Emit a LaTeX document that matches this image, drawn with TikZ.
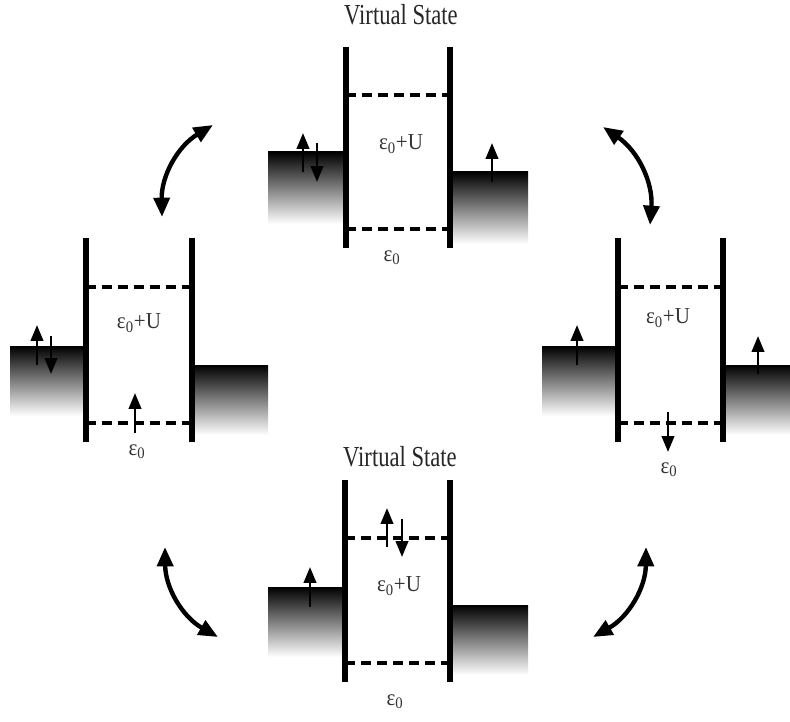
\documentclass[tikz,border=0pt]{standalone}
\usepackage{fontspec}
\setmainfont{Liberation Serif}
\usetikzlibrary{arrows.meta}

\begin{document}
\begin{tikzpicture}[x=0.02cm, y=0.02cm,
		wall/.style={line width=3.4pt},
		level/.style={line width=1.8pt, dash pattern=on 5.7pt off 3.4pt},
		lead/.style={top color=black, bottom color=white},
		spin/.style={line width=1.5pt, -{Triangle[length=9pt,width=7pt]}},
		hop/.style={line width=2.5pt, {Triangle[length=11pt,width=9pt]}-{Triangle[length=11pt,width=9pt]}},
		lbl/.style={font=\fontsize{13}{13}\selectfont, text=black!80, inner sep=0pt, xscale=0.92},
		title/.style={font=\fontsize{16.5}{17}\selectfont, text=black!85, inner sep=0pt, xscale=0.78}]
	\useasboundingbox (0,0) rectangle (790,721);

	% Top panel: virtual state, doubly occupied
	\shade[lead] (268,497) rectangle (346,569);
	\shade[lead] (450,477) rectangle (528,549);
	\foreach \x in {346,450} \draw[wall] (\x,473) -- (\x,674);
	\draw[level] (346,626) -- (450,626);
	\draw[level] (346,492) -- (450,492);
	\node[title] (topvs) at (401,706) {Virtual State};
	\node[lbl] (topU) at (401,577) {ε\textsubscript{0}+U};
	\node[lbl] (tope) at (392,463) {ε\textsubscript{0}};
	\draw[spin] (303,549) -- (303,588);
	\draw[spin] (317,578) -- (317,539);
	\draw[spin] (492,539) -- (492,578);

	% Left panel: spin up on the dot
	\shade[lead] (10,305) rectangle (86,375);
	\shade[lead] (192,286) rectangle (268,356);
	\foreach \x in {86,192} \draw[wall] (\x,279) -- (\x,483);
	\draw[level] (86,434) -- (192,434);
	\draw[level] (86,298) -- (192,298);
	\node[lbl] (leftU) at (139,398) {ε\textsubscript{0}+U};
	\node[lbl] (lefte) at (137,269) {ε\textsubscript{0}};
	\draw[spin] (37,356) -- (37,396);
	\draw[spin] (51,385) -- (51,347);
	\draw[spin] (135,288) -- (135,328);

	% Right panel: spin down on the dot
	\shade[lead] (542,305) rectangle (618,375);
	\shade[lead] (723,286) rectangle (790,356);
	\foreach \x in {618,723} \draw[wall] (\x,279) -- (\x,483);
	\draw[level] (618,434) -- (723,434);
	\draw[level] (618,298) -- (723,298);
	\node[lbl] (rightU) at (668,403) {ε\textsubscript{0}+U};
	\node[lbl] (righte) at (669,251) {ε\textsubscript{0}};
	\draw[spin] (577,356) -- (577,396);
	\draw[spin] (758,347) -- (758,385);
	\draw[spin] (668,309) -- (668,269);

	% Bottom panel: virtual state, doubly occupied
	\shade[lead] (268,64) rectangle (345,134);
	\shade[lead] (450,46) rectangle (528,116);
	\foreach \x in {345,450} \draw[wall] (\x,39) -- (\x,241);
	\draw[level] (345,183) -- (450,183);
	\draw[level] (345,58) -- (450,58);
	\node[title] (botvs) at (400,264) {Virtual State};
	\node[lbl] (botU) at (399,135) {ε\textsubscript{0}+U};
	\node[lbl] (bote) at (395,19) {ε\textsubscript{0}};
	\draw[spin] (310,114) -- (310,154);
	\draw[spin] (387,174) -- (387,213);
	\draw[spin] (402,202) -- (402,164);

	% Hopping arrows between the panels
	\coordinate (tlA) at (162,504);
	\coordinate (tlB) at (213,596);
	\coordinate (trA) at (603,594);
	\coordinate (trB) at (650,496);
	\coordinate (blA) at (165,174);
	\coordinate (blB) at (218,84);
	\coordinate (brA) at (646,174);
	\coordinate (brB) at (593,84);
	\draw[hop] (tlA) to[bend left=30] (tlB);
	\draw[hop] (trA) to[bend left=30] (trB);
	\draw[hop] (blA) to[bend right=30] (blB);
	\draw[hop] (brA) to[bend left=30] (brB);
\end{tikzpicture}
\end{document}
